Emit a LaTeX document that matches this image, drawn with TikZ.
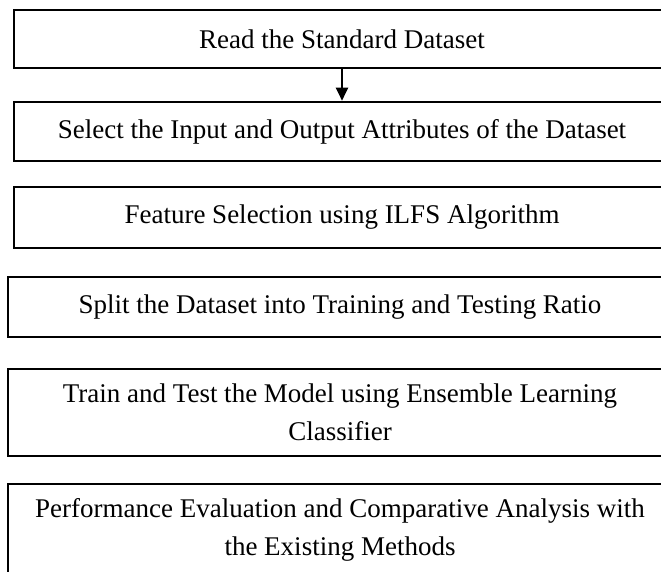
\documentclass[tikz,border=0pt]{standalone}
\usepackage{fontspec}
\setmainfont{Liberation Serif}
\usetikzlibrary{arrows.meta}
\begin{document}
\begin{tikzpicture}[x=1pt,y=-1pt,
  box/.style={draw=black, line width=2.6pt, rectangle, align=center,
    font=\fontsize{27}{38}\selectfont, inner sep=0pt},
  flow/.style={line width=2pt, -{Triangle[length=13pt,width=12pt]}}]
\useasboundingbox (0,0) rectangle (661,571);
\clip (0,0) rectangle (661,571);
\fill[white] (0,0) rectangle (661,571);
\node[box, minimum width=656pt, minimum height=58pt] (b1) at (342,39) {Read the Standard Dataset};
\node[box, minimum width=656pt, minimum height=59pt] (b2) at (342,131.5) {Select the Input and Output Attributes of the Dataset};
\node[box, minimum width=656pt, minimum height=61pt] (b3) at (342,217.5) {Feature Selection using ILFS Algorithm};
\node[box, minimum width=664pt, minimum height=60pt] (b4) at (340,307) {Split the Dataset into Training and Testing Ratio};
\node[box, minimum width=664pt, minimum height=87pt] (b5) at (340,412.5) {Train and Test the Model using Ensemble Learning\\Classifier};
\node[box, minimum width=664pt, minimum height=92pt] (b6) at (340,530) {Performance Evaluation and Comparative Analysis with\\the Existing Methods};
\draw[flow] (b1.south) -- (b2.north);
\end{tikzpicture}
\end{document}
